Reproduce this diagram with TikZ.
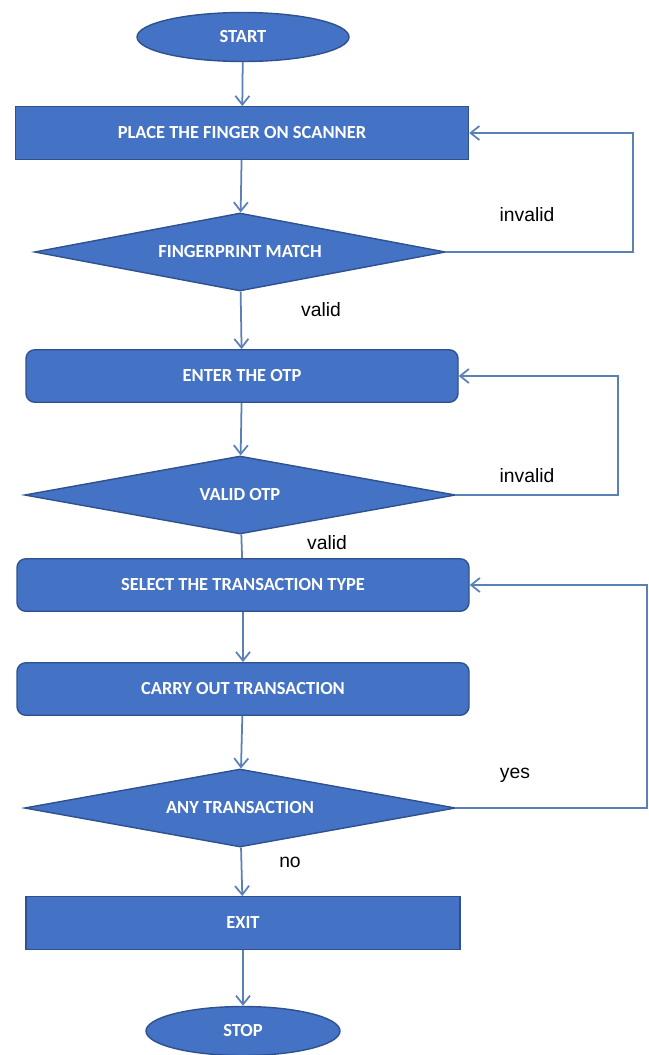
\documentclass[tikz,border=0pt]{standalone}
\usepackage{fontspec}
\setmainfont{Carlito}
\newfontfamily\labelfont{Liberation Sans}
\usetikzlibrary{shapes.geometric,arrows.meta}
\definecolor{boxblue}{HTML}{4472C4}
\definecolor{edgeblue}{HTML}{2F528F}
\definecolor{lineblue}{HTML}{5B80B8}
\begin{document}
\begin{tikzpicture}[
  x=0.02cm, y=-0.02cm,
  font=\fontsize{10.5}{12}\selectfont\bfseries,
  box/.style={draw=edgeblue, fill=boxblue, text=white, line width=0.8pt, minimum width=#1*0.02cm, minimum height=1.05cm, inner sep=0pt},
  rbox/.style={box=#1, rounded corners=5pt},
  decision/.style={diamond, aspect=6, draw=edgeblue, fill=boxblue, text=white, line width=0.8pt, minimum width=#1*0.02cm, minimum height=1.56cm, inner sep=0pt},
  terminal/.style={ellipse, draw=edgeblue, fill=boxblue, text=white, line width=0.8pt, minimum width=#1*0.02cm, minimum height=0.98cm, inner sep=0pt},
  arrow/.style={-{Straight Barb[length=5pt,width=8pt]}, lineblue, line width=1pt},
  line/.style={lineblue, line width=1pt},
  lbl/.style={font=\labelfont\fontsize{11}{13}\selectfont, text=black}
]
\useasboundingbox (0,0) rectangle (649,1055);
\node[terminal=212] (start) at (243,37) {START};
\node[box=453] (place) at (242,133) {PLACE THE FINGER ON SCANNER};
\node[decision=411] (match) at (240,252) {FINGERPRINT MATCH};
\node[rbox=432] (enter) at (242,376) {ENTER THE OTP};
\node[decision=431] (validotp) at (240,495) {VALID OTP};
\node[rbox=452] (select) at (243,585) {SELECT THE TRANSACTION TYPE};
\node[rbox=452] (carry) at (243,689) {CARRY OUT TRANSACTION};
\node[decision=431] (anytx) at (240,808) {ANY TRANSACTION};
\node[box=434] (exit) at (243,923) {EXIT};
\node[terminal=194] (stop) at (243,1031) {STOP};
% labels
\node[lbl] (inv1) at (527,215) {invalid};
\node[lbl] (val1) at (321,310) {valid};
\node[lbl] (inv2) at (527,476) {invalid};
\node[lbl] (val2) at (327,543) {valid};
\node[lbl] (yes) at (515,775) {yes};
\node[lbl] (no) at (290,862) {no};
% main flow
\draw[arrow] (start) -- (place);
\draw[arrow] (place) -- (match);
\draw[arrow] (match) -- (enter);
\draw[arrow] (enter) -- (validotp);
\draw[line] (validotp) -- (select);
\draw[arrow] (select) -- (carry);
\draw[arrow] (carry) -- (anytx);
\draw[arrow] (anytx) -- (exit);
\draw[arrow] (exit) -- (stop);
% loops back
\draw[arrow] (match.east) -- ++(187,0) |- (place.east);
\draw[arrow] (validotp.east) -- ++(162,0) |- (enter.east);
\draw[arrow] (anytx.east) -- ++(191,0) |- (select.east);
\end{tikzpicture}
\end{document}
